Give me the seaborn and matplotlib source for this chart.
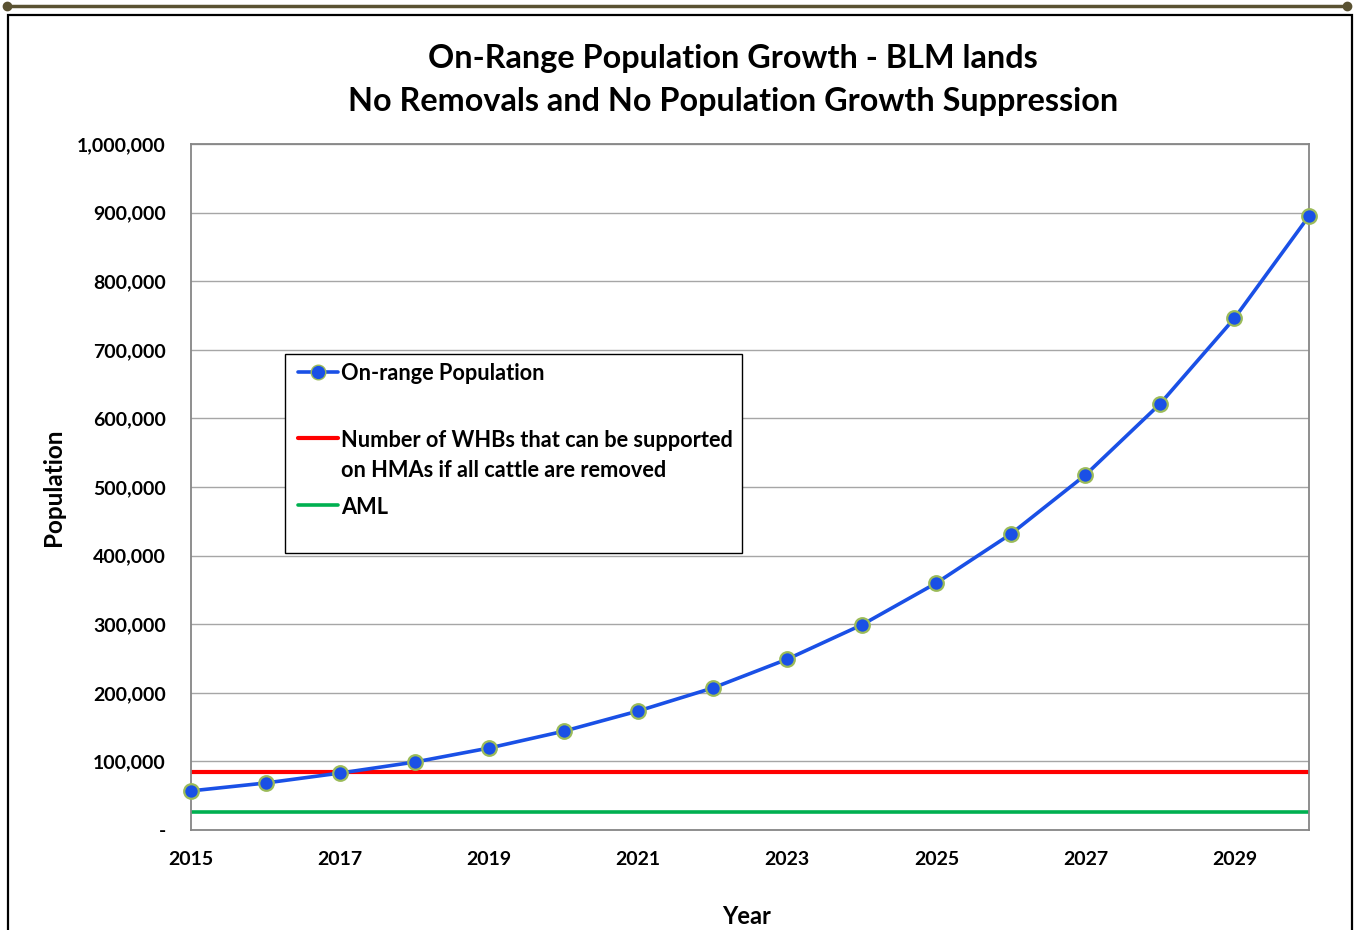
import matplotlib
matplotlib.use("Agg")
import matplotlib.pyplot as plt
import matplotlib.ticker as mticker
from matplotlib.lines import Line2D
from matplotlib.patches import Rectangle
import seaborn as sns
import pandas as pd

years = [2015, 2016, 2017, 2018, 2019, 2020, 2021, 2022, 2023, 2024,
         2025, 2026, 2027, 2028, 2029, 2030]
population = [57000, 68500, 83000, 99000, 119500, 144000, 173500, 207000,
              249000, 299000, 360000, 431500, 517500, 621000, 746000, 895000]
whb_capacity = 84500
aml = 26000
x_ticks = [2015, 2017, 2019, 2021, 2023, 2025, 2027, 2029]
y_ticks = [0, 100000, 200000, 300000, 400000, 500000, 600000, 700000, 800000, 900000, 1000000]

title = "On-Range Population Growth - BLM lands\nNo Removals and No Population Growth Suppression"
series_label = "On-range Population"
whb_label = "Number of WHBs that can be supported\non HMAs if all cattle are removed"
aml_label = "AML"

sns.set_theme(style="white")
plt.rcParams['font.family'] = ['Lato', 'DejaVu Sans']
plt.rcParams['text.color'] = 'black'
plt.rcParams['axes.labelcolor'] = 'black'
plt.rcParams['xtick.color'] = 'black'
plt.rcParams['ytick.color'] = 'black'

df = pd.DataFrame({"Year": years, "Population": population})

W, H = 1354, 930
fig = plt.figure(figsize=(W / 100, H / 100), dpi=100)
ax = fig.add_axes([191 / W, 1 - 830 / H, (1309 - 191) / W, (830 - 144) / H])

blue = "#1a50e6"
red = "#ff0000"
green = "#00b050"
ax.axhline(whb_capacity, color=red, lw=3.0, zorder=2)
ax.axhline(aml, color=green, lw=2.6, zorder=2)
sns.lineplot(data=df, x="Year", y="Population", ax=ax, color=blue, lw=2.6,
             marker="o", markersize=10.5, markerfacecolor=blue,
             markeredgecolor="#9bbb59", markeredgewidth=1.6, zorder=4,
             clip_on=False)

ax.set_xlim(2015, 2030)
ax.set_ylim(0, 1000000)
ax.set_xticks(x_ticks)
ax.set_yticks(y_ticks)
ax.yaxis.set_major_formatter(mticker.FuncFormatter(lambda v, p: "-" if v == 0 else f"{int(v):,}"))
ax.grid(axis="y", color="#a6a6a6", lw=1.0)
ax.set_axisbelow(True)
for s in ax.spines.values():
    s.set_color("#868686")
    s.set_linewidth(1.3)
ax.tick_params(axis="both", length=0, labelsize=14)
ax.tick_params(axis="x", pad=15)
ax.tick_params(axis="y", pad=18)
for lab in ax.get_xticklabels() + ax.get_yticklabels():
    lab.set_fontweight("bold")
ax.set_xlabel("Year", fontsize=17, fontweight="bold")
ax.set_ylabel("Population", fontsize=17.5, fontweight="bold")
ax.xaxis.set_label_coords(0.4965, -0.1095)
ax.yaxis.set_label_coords(-0.113, 0.5)

fig.text(733 / W, 1 - 80 / H, title, ha="center", va="center", fontsize=23.3,
         fontweight="bold", linespacing=1.55)

# legend (drawn as a framed box with handles and labels)
fy = lambda py: 1 - py / H
fx = lambda px: px / W
fig.add_artist(Rectangle((fx(285), fy(553)), fx(742) - fx(285), fy(354) - fy(553),
                         transform=fig.transFigure, facecolor="white", edgecolor="black",
                         lw=1.0, zorder=5))
leg_font = dict(fontsize=15.7, fontweight="bold", va="center", ha="left", zorder=6)
fig.add_artist(Line2D([fx(298), fx(338)], [fy(372), fy(372)], transform=fig.transFigure,
                      color=blue, lw=2.6, zorder=6))
fig.add_artist(Line2D([fx(318)], [fy(372)], transform=fig.transFigure, marker="o",
                      markersize=10.5, markerfacecolor=blue, markeredgecolor="#9bbb59",
                      markeredgewidth=1.0, lw=0, zorder=7))
fig.text(fx(341), fy(374), series_label, **leg_font)
fig.add_artist(Line2D([fx(298), fx(338)], [fy(438), fy(438)], transform=fig.transFigure,
                      color=red, lw=3.0, zorder=6))
l1, l2 = whb_label.split("\n")
fig.text(fx(341), fy(440), l1, **leg_font)
fig.text(fx(341), fy(470), l2, **leg_font)
fig.add_artist(Line2D([fx(298), fx(338)], [fy(505), fy(505)], transform=fig.transFigure,
                      color=green, lw=2.6, zorder=6))
fig.text(fx(341), fy(507), aml_label, **leg_font)

# outer decoration
fig.add_artist(Line2D([7 / W, 1347 / W], [1 - 6 / H, 1 - 6 / H], transform=fig.transFigure,
                      color="#5a5232", lw=2.5))
for xx in (7, 1347):
    fig.add_artist(Line2D([xx / W], [1 - 6 / H], transform=fig.transFigure, marker="o",
                          markersize=6, color="#5a5232", lw=0))
fig.add_artist(Rectangle((8 / W, -0.01), (1352 - 8) / W, 1 - 15 / H + 0.01,
                         transform=fig.transFigure, fill=False, edgecolor="black", lw=1.6))

fig.savefig("out.png", dpi=100)
